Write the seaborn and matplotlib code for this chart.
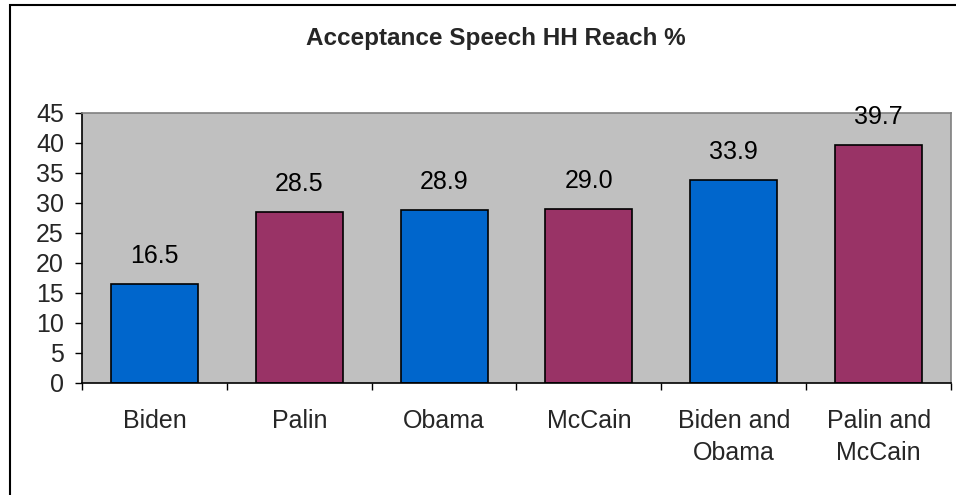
import matplotlib
matplotlib.use("Agg")
import matplotlib.pyplot as plt
import seaborn as sns
from matplotlib.patches import Rectangle

# data
speakers = ["Biden", "Palin", "Obama", "McCain", "Biden and\nObama", "Palin and\nMcCain"]
reach_pct = [16.5, 28.5, 28.9, 29.0, 33.9, 39.7]
bar_colors = ["#0066CC", "#993366", "#0066CC", "#993366", "#0066CC", "#993366"]
y_ticks = [0, 5, 10, 15, 20, 25, 30, 35, 40, 45]

sns.set_theme(style="white")
plt.rcParams["font.family"] = ["Liberation Sans", "DejaVu Sans"]

W, H = 956, 495
fig = plt.figure(figsize=(W / 100, H / 100), dpi=100)
ax = fig.add_axes([82 / W, 1 - 383 / H, (951 - 82) / W, (383 - 113) / H])
ax.set_facecolor("#C0C0C0")

sns.barplot(x=speakers, y=reach_pct, hue=speakers, palette=bar_colors,
            legend=False, width=0.6, edgecolor="black", linewidth=1.2,
            saturation=1, ax=ax)

# value labels above each bar
for i, v in enumerate(reach_pct):
    ax.annotate(f"{v:.1f}", (i, v), xytext=(0, 20), textcoords="offset points",
                ha="center", va="center", fontsize=18, color="black",
                annotation_clip=False)

ax.set_ylim(0, 45)
ax.set_xlim(-0.5, len(speakers) - 0.5)
ax.set_yticks(y_ticks)
ax.set_yticklabels([str(t) for t in y_ticks], fontsize=18)

# category boundaries as major ticks, names on minor ticks
ax.set_xticks([i - 0.5 for i in range(len(speakers) + 1)])
ax.set_xticklabels([""] * (len(speakers) + 1))
ax.set_xticks(range(len(speakers)), minor=True)
ax.set_xticklabels(speakers, minor=True, fontsize=18, va="top", linespacing=1.4)
ax.tick_params(axis="x", which="major", direction="out", length=5, width=1,
               color="black", bottom=True)
ax.tick_params(axis="x", which="minor", length=0, pad=19, bottom=True)
ax.tick_params(axis="y", direction="out", length=5, width=1, color="black",
               left=True, pad=8)
ax.set_xlabel("")
ax.set_ylabel("")

for side in ["left", "bottom"]:
    ax.spines[side].set_color("black")
    ax.spines[side].set_linewidth(1.2)
for side in ["top", "right"]:
    ax.spines[side].set_color("#808080")
    ax.spines[side].set_linewidth(1.2)

fig.text(0.519, 1 - 39 / H, "Acceptance Speech HH Reach %", ha="center",
         va="center", fontsize=17.5, fontweight="bold")

# chart-area frame
fig.add_artist(Rectangle((10 / W, -0.1), 1.0, 1.1 - 5 / H, transform=fig.transFigure,
                         fill=False, edgecolor="black", linewidth=1.5))

fig.savefig("out.png", dpi=100)
